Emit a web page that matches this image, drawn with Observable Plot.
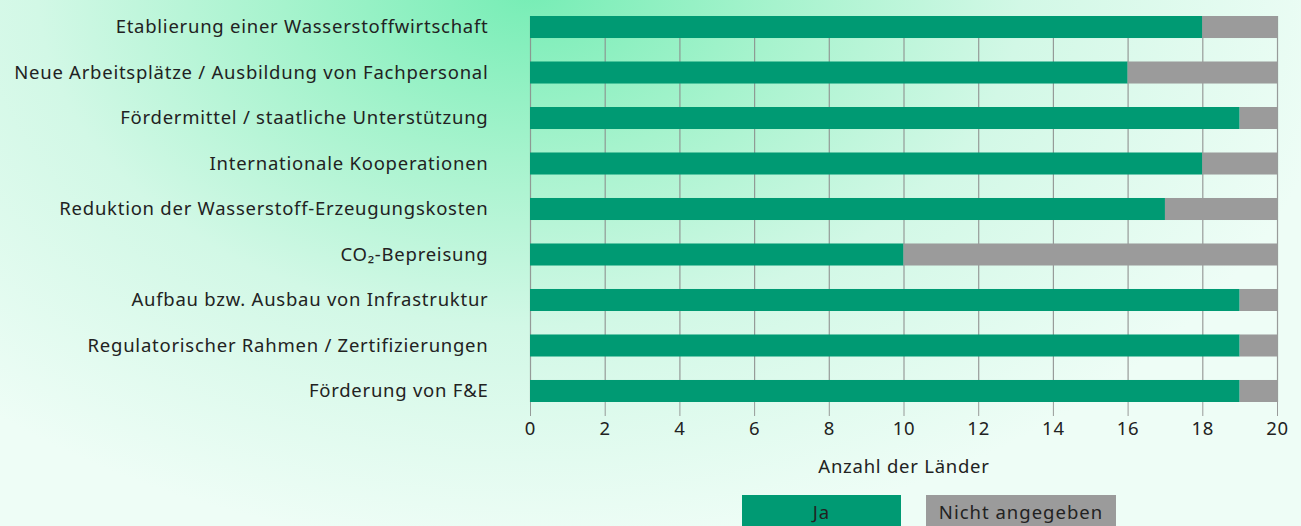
<!DOCTYPE html>
<html>
<head>
<meta charset="utf-8">
<script src="https://cdn.jsdelivr.net/npm/d3@7"></script>
<script src="https://cdn.jsdelivr.net/npm/@observablehq/plot@0.6"></script>
<style>
  html, body { margin: 0; padding: 0; width: 1301px; height: 526px; overflow: hidden; }
  body {
    font-family: "Noto Sans", sans-serif;
    background:
      radial-gradient(ellipse 820px 560px at 530px -10px, #76edb5 0%, #a6f3cd 30%, #d2f8e6 60%, #eefdf6 100%);
    position: relative;
  }
  #chart svg { display: block; background: transparent; }
  #chart svg text { letter-spacing: 0.75px; }
  #legend { position: absolute; left: 742px; top: 495px; display: flex; gap: 25px; }
  #legend .item { height: 34px; line-height: 34px; font-size: 18.5px; color: #222; text-align: center; letter-spacing: 1px; }
</style>
</head>
<body>
<div id="chart"></div>
<div id="legend"></div>
<script>
const categories = [
  "Etablierung einer Wasserstoffwirtschaft",
  "Neue Arbeitsplätze / Ausbildung von Fachpersonal",
  "Fördermittel / staatliche Unterstützung",
  "Internationale Kooperationen",
  "Reduktion der Wasserstoff-Erzeugungskosten",
  "CO₂-Bepreisung",
  "Aufbau bzw. Ausbau von Infrastruktur",
  "Regulatorischer Rahmen / Zertifizierungen",
  "Förderung von F&E"
];
const ja =    [18, 16, 19, 18, 17, 10, 19, 19, 19];
const nicht = [ 2,  4,  1,  2,  3, 10,  1,  1,  1];
const seriesNames = ["Ja", "Nicht angegeben"];
const seriesColors = ["#009a73", "#9b9b9b"];
const xTicks = [0, 2, 4, 6, 8, 10, 12, 14, 16, 18, 20];
const xLabel = "Anzahl der Länder";

const data = [];
categories.forEach((c, i) => {
  data.push({cat: c, series: seriesNames[0], value: ja[i]});
  data.push({cat: c, series: seriesNames[1], value: nicht[i]});
});

const chart = Plot.plot({
  width: 1301,
  height: 485,
  marginLeft: 530,
  marginRight: 24,
  marginTop: 16,
  marginBottom: 83,
  style: {fontFamily: "'Noto Sans', sans-serif", fontSize: "18.5px", color: "#222", background: "transparent"},
  x: {domain: [0, 20]},
  y: {domain: categories, padding: 0.516, paddingOuter: 0, round: false},
  color: {domain: seriesNames, range: seriesColors},
  marks: [
    Plot.gridX(xTicks, {stroke: "#8a8a8a", strokeOpacity: 0.85, strokeWidth: 1.2}),
    Plot.barX(data, {y: "cat", x: "value", fill: "series", order: seriesNames}),
    Plot.axisX(xTicks, {tickSize: 14, tickPadding: 5, stroke: "#8a8a8a", strokeOpacity: 0.85, fill: "#222", fontSize: 18.5, label: xLabel, labelAnchor: "center", labelArrow: "none", labelOffset: 70}),
    Plot.axisY({tickSize: 0, tickPadding: 42, fill: "#222", fontSize: 18.5, label: null})
  ]
});
document.getElementById("chart").appendChild(chart);

const legend = document.getElementById("legend");
const widths = [159, 190];
seriesNames.forEach((s, i) => {
  const d = document.createElement("div");
  d.className = "item";
  d.style.background = seriesColors[i];
  d.style.width = widths[i] + "px";
  d.textContent = s;
  legend.appendChild(d);
});
</script>
</body>
</html>
